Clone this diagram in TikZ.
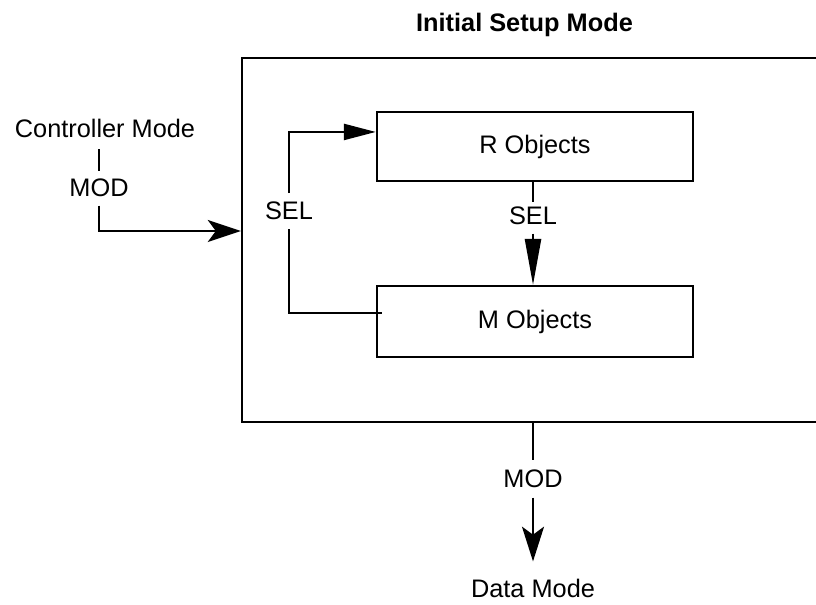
\documentclass[tikz,border=0pt]{standalone}
\usepackage{fontspec}
\setmainfont{Liberation Sans}
\usetikzlibrary{arrows.meta,positioning}

\begin{document}
\begin{tikzpicture}[
  x=0.75pt, y=-0.75pt,
  every node/.style={font=\fontsize{19}{23}\selectfont},
  txt/.style={inner sep=0pt, anchor=base},
  frame/.style={draw, line width=1.8pt, minimum width=441pt, minimum height=273pt},
  obj/.style={draw, line width=1.8pt, minimum width=237pt, minimum height=52pt, fill=white},
  wire/.style={line width=1.8pt},
  inarrow/.style={wire, -{Stealth[length=24.75pt, width=16.5pt, inset=6pt]}},
  selarrow/.style={wire, -{Triangle[length=24pt, width=12pt]}},
  downarrow/.style={wire, -{Triangle[length=34.5pt, width=12pt]}},
  outarrow/.style={wire, -{Stealth[length=26pt, width=16.5pt, inset=6pt]}}
]
\useasboundingbox (0,0) rectangle (816,605);
\node[txt, font=\fontsize{19}{23}\selectfont\bfseries] (title) at (524.5,32) {Initial Setup Mode};
\node[frame] (setup) at (536,240) {};
\node[obj] (robj) at (535,146.5) {R Objects};
\node[obj, minimum height=53pt] (mobj) at (535,321.5) {M Objects};
\node[txt] (ctrl) at (105,138) {Controller Mode};
\node[txt] (mod1) at (99,197) {MOD};
\node[txt] (sel1) at (289,220) {SEL};
\node[txt] (sel2) at (533,225) {SEL};
\node[txt] (mod2) at (533,487) {MOD};
\node[txt] (data) at (533,597) {Data Mode};
\coordinate (ctrlin) at ([yshift=6.75pt]setup.west);
\coordinate (mout) at ([xshift=4.5pt, yshift=6.4pt]mobj.west);
\coordinate (rin) at ([yshift=10.9pt]robj.west);
\draw[wire, shorten <=8pt, shorten >=6pt] (mod1.north |- ctrl.south) -- (mod1.north);
\draw[inarrow, shorten <=6pt] (mod1.south) |- (ctrlin);
\draw[wire, shorten >=6pt] (mout) -| (sel1.south);
\draw[selarrow, shorten <=6.75pt] (sel1.north) |- (rin);
\draw[wire, shorten >=3.75pt] (robj.south -| sel2) -- (sel2.north);
\draw[downarrow, shorten <=6pt] (sel2.south) -- (mobj.north -| sel2);
\draw[wire, shorten >=6.75pt] (setup.south -| mod2) -- (mod2.north);
\draw[outarrow, shorten <=7.5pt, shorten >=12.75pt] (mod2.south) -- (data.north);
\end{tikzpicture}
\end{document}
